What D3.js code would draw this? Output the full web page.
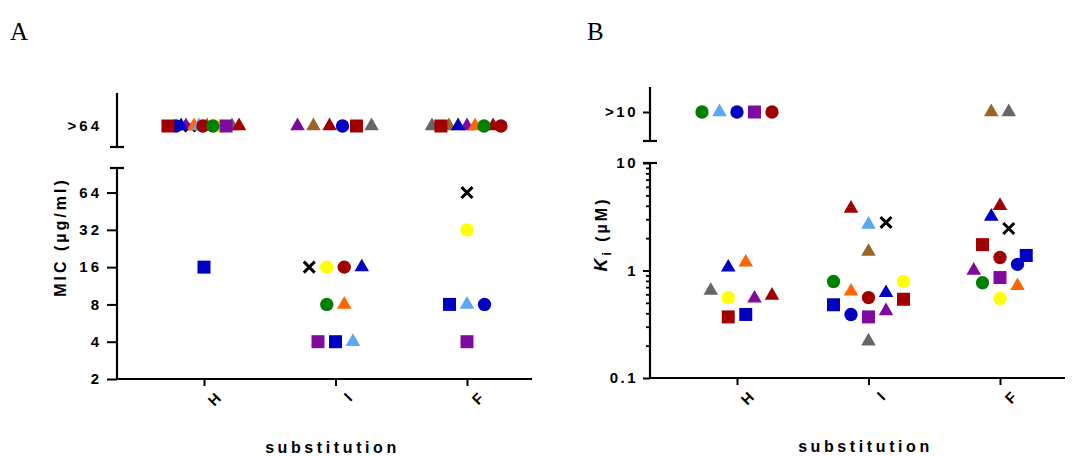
<!DOCTYPE html>
<html><head><meta charset="utf-8">
<script src="https://cdn.jsdelivr.net/npm/d3@7"></script>
<style>
html,body{margin:0;padding:0;background:#fff;}
svg{display:block;}
text{font-family:"Liberation Sans",Arial,sans-serif;}
</style></head>
<body>
<svg id="chart" width="1080" height="456"></svg>
<script>
// ---------- data ----------
const categories = ["H", "I", "F"];
const seriesShapes = ["square","square","square","circle","circle","circle","circle",
  "triangle","triangle","triangle","triangle","triangle","triangle","triangle","x"];
const seriesColors = ["#A00000","#0000C0","#7F0A9E","#008000","#FFFF00","#A00000","#0000C0",
  "#0000C0","#5AA8F5","#FF6600","#A00000","#7F0A9E","#9A6428","#666666","#000000"];

// Panel A: MIC (µg/ml); ">64" = above range
const micTicks = [2, 4, 8, 16, 32, 64];
const micOver = ">64";
const micH = [">64",16,">64",">64",">64",">64",">64",">64",">64",">64",">64",">64",">64",">64",">64"];
const micI = [">64",4,4,8,16,16,">64",16,4,8,">64",">64",">64",">64",16];
const micF = [">64",8,4,">64",32,">64",8,">64",8,">64",">64",">64",">64",">64",64];
const micJitterH = [-2.06,0,1.26,0.51,0.91,-0.06,-1.6,-1.31,-0.29,-0.57,2.0,-1.03,0.17,1.6,-0.8];
const micJitterI = [1.2,0,-1,-0.5,-0.5,0.5,0.4,1.5,1,0.5,-0.34,-2.17,-1.26,2.06,-1.5];
const micJitterF = [-1.49,-1,0,0.97,0,1.94,1,-0.51,0,0.46,1.49,0,-1.03,-2,0];

// Panel B: Ki (µM); ">10" = above range
const kiTicks = [0.1, 1, 10];
const kiOver = ">10";
const kiH = [0.37,0.39,">10",">10",0.56,">10",">10",1.07,">10",1.19,0.585,0.55,null,0.65,null];
const kiI = [0.54,0.48,0.37,0.79,0.79,0.56,0.39,0.62,2.68,0.64,3.78,0.42,1.5,0.22,2.8];
const kiF = [1.74,1.38,0.86,0.77,0.55,1.32,1.14,3.18,null,0.72,4.0,1.0,">10",">10",2.46];
const kiJitterH = [-0.5,0.5,1,-2,-0.5,2,0,-0.5,-1,0.5,2,1,0,-1.5,0];
const kiJitterI = [2,-2,0,-2,2,0,-1,1,0,-1,-1,1,0,0,1];
const kiJitterF = [-1,1.5,0,-1,0,0,1,-0.5,0,1,0,-1.5,-0.5,0.5,0.5];

// ---------- drawing ----------
const svg = d3.select("#chart");
const jitter = d3.scaleLinear().domain([-1, 1]).range([-17.5, 17.5]);

function symbolPath(shape) {
  if (shape === "square") return d3.symbol(d3.symbolSquare, 169)();
  if (shape === "circle") return d3.symbol(d3.symbolCircle, 140)();
  if (shape === "triangle") return d3.symbol(d3.symbolTriangle, 92)();
  return d3.symbol(d3.symbolX, 80)();
}

function buildPoints(valsByCat, jitByCat) {
  const pts = [];
  categories.forEach((c, ci) => {
    valsByCat[ci].forEach((v, si) => {
      if (v === null) return;
      pts.push({cat: c, v: v, s: si, j: jitByCat[ci][si]});
    });
  });
  // lower series index drawn on top
  return pts.sort((a, b) => b.s - a.s);
}

function panel(opt) {
  const g = svg.append("g");
  const ax = opt.axisX;
  const x = d3.scalePoint().domain(categories).range([ax + 87, ax + 350]);
  const xEnd = ax + 415;
  const y = d3.scaleLog().base(opt.base).domain(opt.domain).range([opt.bottom, opt.lowTop]);
  const yTop = d3.scalePoint().domain([opt.over]).range([opt.topBottom, opt.overEdge]).padding(0.5);

  // panel letter
  svg.append("text").attr("x", opt.letterX).attr("y", 40)
    .style("font-family", "'Liberation Serif','Times New Roman',serif")
    .attr("font-size", 25).text(opt.letter);

  // lower y axis
  const yAxis = d3.axisLeft(y).tickValues(opt.ticks).tickSize(opt.tickLen).tickPadding(5)
    .tickFormat(d => String(d));
  const ya = g.append("g").attr("transform", `translate(${ax},0)`).call(yAxis);
  ya.select(".domain").remove();
  ya.selectAll(".tick line").attr("stroke", "#000").attr("stroke-width", 2);
  ya.selectAll(".tick text").attr("font-size", 15).attr("font-weight", "bold")
    .attr("letter-spacing", opt.lsp).attr("fill", "#000");
  if (opt.minor) {
    g.append("g").attr("transform", `translate(${ax},0)`)
      .call(d3.axisLeft(y).tickValues(opt.minor).tickSize(4).tickFormat(""))
      .call(s => s.select(".domain").remove())
      .selectAll(".tick line").attr("stroke", "#000").attr("stroke-width", 1.8);
  }
  g.append("line").attr("x1", ax).attr("x2", ax).attr("y1", opt.lowTop).attr("y2", opt.bottom + 1)
    .attr("stroke", "#000").attr("stroke-width", 2.2);
  g.append("line").attr("x1", ax - 7).attr("x2", ax + 7).attr("y1", opt.lowTop).attr("y2", opt.lowTop)
    .attr("stroke", "#000").attr("stroke-width", 2.2);

  // top (over-range) segment
  const ta = g.append("g").attr("transform", `translate(${ax},0)`)
    .call(d3.axisLeft(yTop).tickSize(opt.overTick).tickPadding(opt.overTick ? 5 : 15));
  ta.select(".domain").remove();
  ta.selectAll(".tick line").attr("stroke", "#000").attr("stroke-width", 2);
  ta.selectAll(".tick text").attr("font-size", 15).attr("font-weight", "bold")
    .attr("letter-spacing", opt.lsp).attr("fill", "#000");
  g.append("line").attr("x1", ax).attr("x2", ax).attr("y1", opt.topTop).attr("y2", opt.topBottom)
    .attr("stroke", "#000").attr("stroke-width", 2.2);
  g.append("line").attr("x1", ax - 7).attr("x2", ax + 7).attr("y1", opt.topBottom).attr("y2", opt.topBottom)
    .attr("stroke", "#000").attr("stroke-width", 2.2);

  // x axis
  g.append("line").attr("x1", ax - 1).attr("x2", xEnd).attr("y1", opt.bottom).attr("y2", opt.bottom)
    .attr("stroke", "#000").attr("stroke-width", 2.2);
  const xa = g.append("g").attr("transform", `translate(0,${opt.bottom})`)
    .call(d3.axisBottom(x).tickSize(7).tickPadding(8));
  xa.select(".domain").remove();
  xa.selectAll(".tick line").attr("stroke", "#000").attr("stroke-width", 2);
  xa.selectAll(".tick text").attr("font-size", 15).attr("font-weight", "bold").attr("fill", "#000")
    .attr("text-anchor", "end").attr("dy", "0.35em")
    .attr("transform", "translate(3,6) rotate(-45)");

  g.append("text").attr("x", x("I") - 3).attr("y", opt.bottom + 74)
    .attr("text-anchor", "middle").attr("font-size", 16).attr("font-weight", "bold")
    .attr("letter-spacing", 3.6).text("substitution");

  // y title
  const yt = g.append("text")
    .attr("transform", `translate(${opt.titleX},${opt.titleY}) rotate(-90)`)
    .attr("text-anchor", "middle").attr("font-size", 16).attr("font-weight", "bold")
    .attr("letter-spacing", 3);
  opt.title(yt);

  // points
  const pts = buildPoints(opt.vals, opt.jit);
  g.append("g").selectAll("path").data(pts).join("path")
    .attr("transform", d => {
      const px = x(d.cat) + jitter(d.j);
      const py = (typeof d.v === "string") ? yTop(d.v) : y(d.v);
      return `translate(${px},${py})`;
    })
    .attr("d", d => symbolPath(seriesShapes[d.s]))
    .attr("fill", d => seriesShapes[d.s] === "x" ? "none" : seriesColors[d.s])
    .attr("stroke", d => seriesShapes[d.s] === "x" ? seriesColors[d.s] : "none")
    .attr("stroke-width", d => seriesShapes[d.s] === "x" ? 3 : 0);
}

panel({
  letter: "A", letterX: 10, axisX: 117, base: 2,
  domain: [2, 101], ticks: micTicks, bottom: 379, lowTop: 168,
  topTop: 93, topBottom: 147, overEdge: 105, over: micOver, overTick: 0, tickLen: 10, lsp: 3,
  vals: [micH, micI, micF], jit: [micJitterH, micJitterI, micJitterF],
  titleX: 66, titleY: 237,
  title: t => t.text("MIC (µg/ml)")
});

const minorKi = [0.2,0.3,0.4,0.5,0.6,0.7,0.8,0.9,2,3,4,5,6,7,8,9];
panel({
  letter: "B", letterX: 587, axisX: 650, base: 10,
  domain: [0.1, 10], ticks: kiTicks, bottom: 378, lowTop: 163,
  topTop: 87, topBottom: 141, overEdge: 83, over: kiOver, overTick: 7, tickLen: 7, lsp: 2.5,
  minor: minorKi,
  vals: [kiH, kiI, kiF], jit: [kiJitterH, kiJitterI, kiJitterF],
  titleX: 607, titleY: 234,
  title: t => {
    t.append("tspan").attr("font-style", "italic").attr("font-size", 18).text("K");
    t.append("tspan").attr("font-size", 12).attr("dy", 4).text("i");
    t.append("tspan").attr("dy", -4).text(" (µM)");
  }
});
</script>
</body></html>
